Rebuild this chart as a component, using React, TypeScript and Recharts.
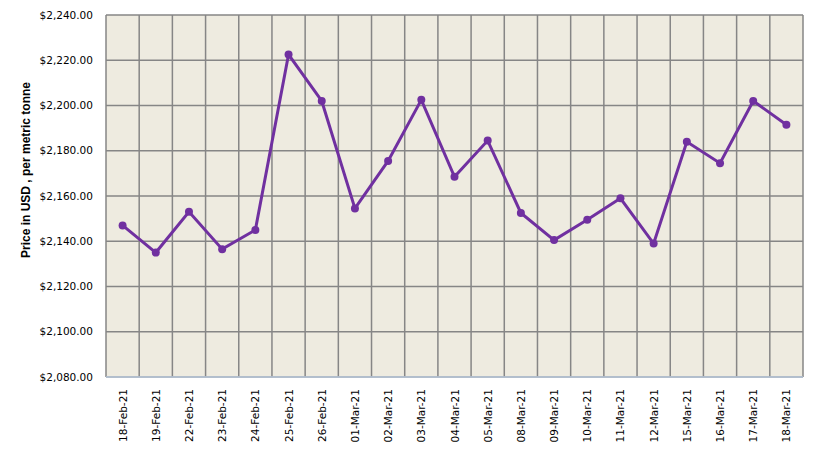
import { LineChart, Line, XAxis, YAxis, CartesianGrid, Label } from 'recharts'

const dates = [
  '18-Feb-21', '19-Feb-21', '22-Feb-21', '23-Feb-21', '24-Feb-21', '25-Feb-21', '26-Feb-21',
  '01-Mar-21', '02-Mar-21', '03-Mar-21', '04-Mar-21', '05-Mar-21', '08-Mar-21', '09-Mar-21',
  '10-Mar-21', '11-Mar-21', '12-Mar-21', '15-Mar-21', '16-Mar-21', '17-Mar-21', '18-Mar-21',
]

const prices = [
  2147, 2135, 2153, 2136.5, 2145, 2222.5, 2202, 2154.5, 2175.5, 2202.5, 2168.5,
  2184.5, 2152.5, 2140.5, 2149.5, 2159, 2139, 2184, 2174.5, 2202, 2191.5,
]

const yTicks = [2080, 2100, 2120, 2140, 2160, 2180, 2200, 2220, 2240]

const data = dates.map((d, i) => ({ date: d, price: prices[i] }))

const fmt = (v: number) =>
  '$' + v.toLocaleString('en-US', { minimumFractionDigits: 2, maximumFractionDigits: 2 })

const font = '"DejaVu Sans", Verdana, sans-serif'

function DateTick(props: any) {
  const { x, y, payload } = props
  return (
    <text
      x={x}
      y={y + 10}
      transform={`rotate(-90 ${x} ${y + 10})`}
      textAnchor="end"
      dominantBaseline="central"
      fontSize={10.5}
      fontFamily={font}
      fill="#000"
    >
      {payload.value}
    </text>
  )
}

export default function App() {
  return (
    <div style={{ margin: -8, width: 818, height: 453, position: 'relative', background: '#fff' }}>
      <div
        style={{
          position: 'absolute', left: 1, top: 1, width: 814, height: 449,
          border: '1px solid #8c8c8c',
        }}
      />
      <div style={{ position: 'absolute', left: 0, top: 0 }}>
        <LineChart width={818} height={453} data={data} margin={{ top: 15, right: 15, bottom: 0, left: 0 }}>
          <CartesianGrid
            fill="#EEEBE0"
            stroke="#868686"
            strokeWidth={1.5}
            verticalCoordinatesGenerator={({ offset }: any) =>
              Array.from({ length: dates.length + 1 }, (_, i) => offset.left + (i * offset.width) / dates.length)
            }
          />
          <XAxis
            dataKey="date"
            scale="band"
            interval={0}
            height={76}
            tickSize={0}
            tickLine={false}
            axisLine={{ stroke: '#B8C8DC', strokeWidth: 1.5 }}
            tick={<DateTick />}
          />
          <YAxis
            domain={[2080, 2240]}
            ticks={yTicks}
            width={106}
            tickSize={0}
            tickMargin={13}
            tickLine={false}
            axisLine={false}
            tickFormatter={fmt}
            tick={{ fontSize: 10.5, fontFamily: font, fill: '#000' }}
          >
            <Label
              value="Price in USD , per metric tonne"
              angle={-90}
              position="insideLeft"
              dx={21}
              dy={-26}
              style={{ fontSize: 12, fontWeight: 'bold', fontFamily: '"Liberation Sans", Arial, sans-serif', fill: '#000', textAnchor: 'middle' }}
            />
          </YAxis>
          <Line
            dataKey="price"
            stroke="#7030A0"
            strokeWidth={3}
            dot={{ r: 4, fill: '#7030A0', stroke: '#7030A0', strokeWidth: 0 }}
            isAnimationActive={false}
          />
        </LineChart>
      </div>
    </div>
  )
}
